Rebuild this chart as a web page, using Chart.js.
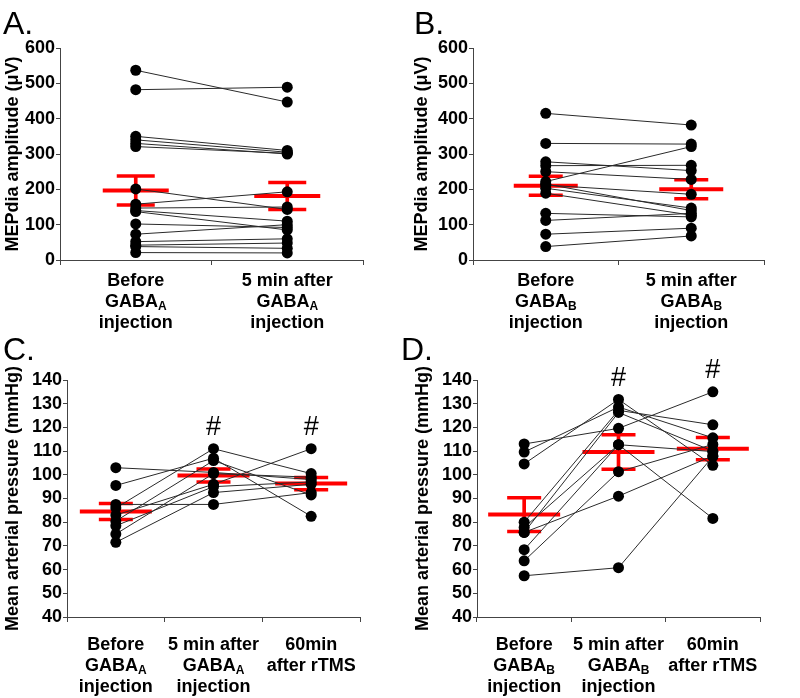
<!DOCTYPE html>
<html>
<head>
<meta charset="utf-8">
<script src="https://cdn.jsdelivr.net/npm/chart.js@4.4.1/dist/chart.umd.min.js"></script>
<style>
  body { margin: 0; background: #fff; }
  #wrap { position: relative; width: 800px; height: 698px; overflow: hidden; background: #fff; }
  canvas { position: absolute; }
  .tag { position: absolute; font: 32px "Liberation Sans", Arial, sans-serif; line-height: 32px; color: #000; }
</style>
</head>
<body>
<div id="wrap">
  <canvas id="chartA" width="400" height="340" style="left:0;top:0"></canvas>
  <canvas id="chartB" width="400" height="340" style="left:400px;top:0"></canvas>
  <canvas id="chartC" width="400" height="358" style="left:0;top:340px"></canvas>
  <canvas id="chartD" width="400" height="358" style="left:400px;top:340px"></canvas>
  <div class="tag" style="left:3px;top:7px">A.</div>
  <div class="tag" style="left:414px;top:7px">B.</div>
  <div class="tag" style="left:3px;top:333px">C.</div>
  <div class="tag" style="left:401px;top:333px">D.</div>
</div>
<script>
const FONT = '"Liberation Sans", Arial, sans-serif';

// --- A: MEPdia, GABA_A
const labelsA = [['Before', 'GABA_A', 'injection'], ['5 min after', 'GABA_A', 'injection']];
const beforeA = [537, 482, 350, 340, 330, 321, 201, 158, 147, 140, 137, 102, 73, 52, 42, 38, 21];
const afterA  = [447, 489, 310, 305, 300, 302, 143, 193, 150, 110, 85, 92, 100, 60, 48, 33, 20];
const meanA = [197, 181];
const semA = [41, 38];

// --- B: MEPdia, GABA_B
const labelsB = [['Before', 'GABA_B', 'injection'], ['5 min after', 'GABA_B', 'injection']];
const beforeB = [415, 330, 278, 267, 250, 222, 215, 212, 203, 189, 132, 112, 73, 38];
const afterB  = [382, 328, 253, 268, 228, 321, 140, 186, 147, 127, 122, 132, 90, 68];
const meanB = [210, 200];
const semB = [27, 27];

// --- C: arterial pressure, GABA_A
const labelsC = [['Before', 'GABA_A', 'injection'], ['5 min after', 'GABA_A', 'injection'], ['60min', 'after rTMS']];
const beforeC  = [103, 95.5, 87.5, 86, 83, 80.5, 78.5, 75, 71.5];
const after5C  = [101, 107, 87.5, 111, 96, 106, 95, 100.5, 92.5];
const after60C = [98, 82.5, 92.5, 100.5, 111, 91.5, 97, 99, 96];
const meanC = [84.5, 99.7, 96.3];
const semC = [3.4, 2.7, 2.6];
const sigC = ['', '#', '#'];

// --- D: arterial pressure, GABA_B
const labelsD = [['Before', 'GABA_B', 'injection'], ['5 min after', 'GABA_B', 'injection'], ['60min', 'after rTMS']];
const beforeD  = [113, 109.6, 104.6, 80, 77.8, 75.7, 68.4, 63.7, 57.4, 75.7];
const after5D  = [119.6, 128.6, 131.8, 127.2, 112.7, 126.3, 112.7, 101.3, 60.8, 91];
const after60D = [135, 115.6, 104, 121.1, 81.6, 110, 109.8, 112.8, 107.7, 108];
const meanD = [83.2, 109.6, 111];
const semD = [7.1, 7.3, 4.7];
const sigD = ['', '#', '#'];

function drawLabelLine(ctx, text, x, y) {
    const parts = text.split('_');
    ctx.font = 'bold 18px ' + FONT;
    if (parts.length === 1) {
        ctx.textAlign = 'center';
        ctx.fillText(text, x, y);
        return;
    }
    const w1 = ctx.measureText(parts[0]).width;
    ctx.font = 'bold 12px ' + FONT;
    const w2 = ctx.measureText(parts[1]).width;
    const left = x - (w1 + w2) / 2;
    ctx.textAlign = 'left';
    ctx.font = 'bold 18px ' + FONT;
    ctx.fillText(parts[0], left, y);
    ctx.font = 'bold 12px ' + FONT;
    ctx.fillText(parts[1], left + w1, y + 3);
}

function makePanel(id, cfg) {
    // one dataset per animal, joining its values across the time points
    const subjects = cfg.series[0].map((_, i) => cfg.series.map(s => s[i]));
    const datasets = subjects.map(vals => ({
        type: 'line',
        data: vals,
        borderColor: '#2a2a2a',
        borderWidth: 1,
        pointRadius: 5.5,
        pointBackgroundColor: '#000',
        pointBorderColor: '#000',
        pointBorderWidth: 0,
        order: 0
    }));
    const red = '#ff0000';
    datasets.push({
        type: 'bar',
        data: cfg.mean.map((m, i) => [m - cfg.sem[i], m + cfg.sem[i]]),
        backgroundColor: red,
        barThickness: 3,
        order: 5
    });
    datasets.push({
        type: 'line', data: cfg.mean, showLine: false,
        pointStyle: 'line', pointRadius: cfg.meanHalf, pointBorderWidth: 4, pointBorderColor: red, order: 4
    });
    datasets.push({
        type: 'line', data: cfg.mean.map((m, i) => m + cfg.sem[i]), showLine: false,
        pointStyle: 'line', pointRadius: cfg.capHalf, pointBorderWidth: 3.5, pointBorderColor: red, order: 4
    });
    datasets.push({
        type: 'line', data: cfg.mean.map((m, i) => m - cfg.sem[i]), showLine: false,
        pointStyle: 'line', pointRadius: cfg.capHalf, pointBorderWidth: 3.5, pointBorderColor: red, order: 4
    });

    const textPlugin = {
        id: 'panelText',
        afterDraw(chart) {
            const ctx = chart.ctx;
            const xs = chart.scales.x;
            const ys = chart.scales.y;
            ctx.save();
            ctx.fillStyle = '#000';
            ctx.textBaseline = 'alphabetic';
            cfg.labels.forEach((lines, i) => {
                const x = xs.getPixelForValue(i);
                lines.forEach((line, j) => {
                    drawLabelLine(ctx, line, x, ys.bottom + cfg.labelTop + j * 21);
                });
            });
            if (cfg.sig) {
                ctx.font = '27px ' + FONT;
                ctx.textAlign = 'center';
                ctx.textBaseline = 'middle';
                cfg.sig.forEach((s, i) => {
                    if (!s) return;
                    const top = Math.max(...cfg.series[i]);
                    ctx.fillText(s, xs.getPixelForValue(i), ys.getPixelForValue(top) - 21);
                });
            }
            ctx.restore();
        }
    };

    return new Chart(document.getElementById(id), {
        type: 'line',
        data: { labels: cfg.labels.map(l => l.join(' ')), datasets: datasets },
        options: {
            responsive: false,
            animation: false,
            devicePixelRatio: 1,
            events: [],
            layout: { padding: { left: 0, top: cfg.padTop, right: cfg.padRight, bottom: 0 } },
            plugins: { legend: { display: false }, tooltip: { enabled: false } },
            scales: {
                x: {
                    type: 'category',
                    offset: true,
                    grid: { offset: true, drawOnChartArea: false, drawTicks: true, tickLength: 5, color: '#444' },
                    border: { color: '#444', width: 1 },
                    ticks: { display: false },
                    afterFit: s => { s.height = cfg.xHeight; }
                },
                y: {
                    min: cfg.yMin,
                    max: cfg.yMax,
                    ticks: {
                        stepSize: cfg.yStep,
                        autoSkip: false,
                        color: '#000',
                        padding: 1,
                        font: { family: FONT, size: 18, weight: 'bold' }
                    },
                    grid: { drawOnChartArea: false, tickLength: 4, color: '#444' },
                    border: { color: '#444', width: 1 },
                    title: {
                        display: true,
                        text: cfg.yTitle,
                        color: '#000',
                        font: { family: FONT, size: 18, weight: 'bold' },
                        padding: { top: cfg.titlePad, bottom: 0 }
                    },
                    afterFit: s => { s.width = cfg.yWidth; }
                }
            }
        },
        plugins: [textPlugin]
    });
}

makePanel('chartA', {
    labels: labelsA, series: [beforeA, afterA], mean: meanA, sem: semA,
    yMin: 0, yMax: 600, yStep: 100, yTitle: 'MEPdia amplitude (\u03bcV)',
    yWidth: 60, padTop: 48, padRight: 15, xHeight: 80, titlePad: 2.5,
    labelTop: 26, meanHalf: 33, capHalf: 19
});
makePanel('chartB', {
    labels: labelsB, series: [beforeB, afterB], mean: meanB, sem: semB,
    yMin: 0, yMax: 600, yStep: 100, yTitle: 'MEPdia amplitude (\u03bcV)',
    yWidth: 73, padTop: 48, padRight: 7, xHeight: 80, titlePad: 11.5,
    labelTop: 26, meanHalf: 32, capHalf: 17
});
makePanel('chartC', {
    labels: labelsC, series: [beforeC, after5C, after60C], mean: meanC, sem: semC, sig: sigC,
    yMin: 40, yMax: 140, yStep: 10, yTitle: 'Mean arterial pressure (mmHg)',
    yWidth: 67, padTop: 38, padRight: 13, xHeight: 81, titlePad: 2.5,
    labelTop: 33, meanHalf: 36, capHalf: 17
});
makePanel('chartD', {
    labels: labelsD, series: [beforeD, after5D, after60D], mean: meanD, sem: semD, sig: sigD,
    yMin: 40, yMax: 140, yStep: 10, yTitle: 'Mean arterial pressure (mmHg)',
    yWidth: 77, padTop: 38, padRight: 3, xHeight: 81, titlePad: 12.5,
    labelTop: 33, meanHalf: 36, capHalf: 17
});
</script>
</body>
</html>
